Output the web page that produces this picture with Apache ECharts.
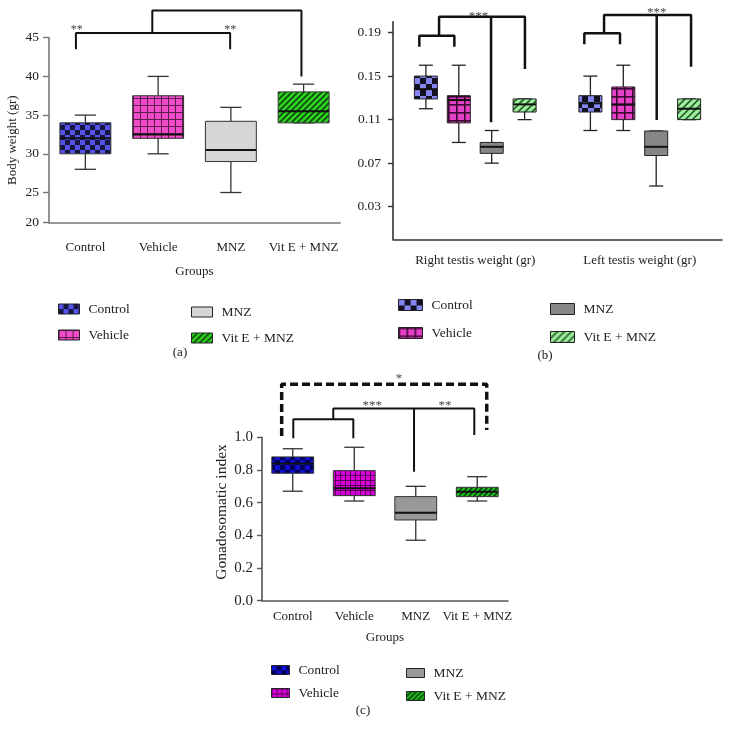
<!DOCTYPE html>
<html><head><meta charset="utf-8">
<script src="https://cdn.jsdelivr.net/npm/echarts@6/dist/echarts.min.js"></script>
<style>html,body{margin:0;padding:0;background:#fff}#c{width:731px;height:737px}</style>
</head><body><div id="c"></div>
<script>
// ---------- data ----------
const groups = ['Control', 'Vehicle', 'MNZ', 'Vit E + MNZ'];
const testisCategories = ['Right testis weight (gr)', 'Left testis weight (gr)'];
// each row: [min, Q1, median, Q3, max]
const bodyWeight = [[28, 30, 32, 34, 35], [30, 32, 32.5, 37.5, 40], [25, 29, 30.5, 34.2, 36], [34, 34, 35.5, 38, 39]];
const rightTestis = [[0.12, 0.129, 0.138, 0.15, 0.16], [0.089, 0.107, 0.128, 0.132, 0.16], [0.07, 0.079, 0.085, 0.089, 0.10], [0.11, 0.117, 0.124, 0.129, 0.129]];
const leftTestis = [[0.10, 0.117, 0.125, 0.132, 0.15], [0.10, 0.11, 0.124, 0.14, 0.16], [0.049, 0.077, 0.085, 0.0995, 0.0995], [0.11, 0.11, 0.12, 0.129, 0.129]];
const gsi = [[0.67, 0.78, 0.84, 0.88, 0.93], [0.61, 0.643, 0.688, 0.796, 0.939], [0.37, 0.494, 0.539, 0.637, 0.70], [0.61, 0.637, 0.667, 0.694, 0.759]];
const bodyTicks = [20, 25, 30, 35, 40, 45];
const bodyTickValues = [21.1, 25, 30, 35, 40, 45];
const testisTicks = [0.03, 0.07, 0.11, 0.15, 0.19];
// significance annotations (category-index x, value y)
const bwBrackets = [
  [[-0.13, 43.5], [-0.13, 45.6], [1.99, 45.6], [1.99, 43.5]],
  [[0.92, 45.6], [0.92, 48.5], [2.97, 48.5], [2.97, 40.0]]
];
const bwStars = [[-0.12, 46.0, '**'], [1.99, 46.0, '**']];
const tsBrackets = [
  [[-0.34, 0.177], [-0.34, 0.1871], [-0.127, 0.1871], [-0.127, 0.177]],
  [[-0.22, 0.1871], [-0.22, 0.2046], [0.302, 0.2046], [0.302, 0.1565]],
  [[0.096, 0.2046], [0.096, 0.1075]],
  [[0.663, 0.1792], [0.663, 0.1893], [0.88, 0.1893], [0.88, 0.1792]],
  [[0.783, 0.1893], [0.783, 0.2062], [1.312, 0.2062], [1.312, 0.1586]],
  [[1.103, 0.2062], [1.103, 0.1096]]
];
const tsStars = [[0.02, 0.205, '***'], [1.103, 0.208, '***']];
const gsiBrackets = [
  [[0.009, 0.994], [0.009, 1.110], [0.985, 1.110], [0.985, 0.994]],
  [[0.659, 1.110], [0.659, 1.177], [2.952, 1.177], [2.952, 1.014]],
  [[1.972, 1.177], [1.972, 0.789]]
];
const gsiDashed = [[-0.18, 1.008], [-0.18, 1.324], [3.154, 1.324], [3.154, 1.045]];
const gsiStars = [[1.728, 1.357, '*'], [1.293, 1.192, '***'], [2.476, 1.192, '**']];

// ---------- patterns ----------
const FONT = '"Liberation Serif", "DejaVu Serif", serif';
function mk(w, h) { const c = document.createElement('canvas'); c.width = w; c.height = h; return [c, c.getContext('2d')]; }
function checker(bg, fg, s) {
  const [c, g] = mk(2 * s, 2 * s);
  g.fillStyle = bg; g.fillRect(0, 0, 2 * s, 2 * s);
  g.fillStyle = fg; g.fillRect(0, 0, s, s); g.fillRect(s, s, s, s);
  return { image: c, repeat: 'repeat' };
}
function gridPat(bg, line, s, lw) {
  const [c, g] = mk(s, s);
  g.fillStyle = bg; g.fillRect(0, 0, s, s);
  g.fillStyle = line; g.fillRect(0, 0, s, lw); g.fillRect(0, 0, lw, s);
  return { image: c, repeat: 'repeat' };
}
function hatch(bg, line, s, lw) {
  const [c, g] = mk(s, s);
  g.fillStyle = bg; g.fillRect(0, 0, s, s);
  g.strokeStyle = line; g.lineWidth = lw;
  g.beginPath();
  g.moveTo(-1, s + 1); g.lineTo(s + 1, -1);
  g.moveTo(-s / 2 - 1, s / 2 + 1); g.lineTo(s / 2 + 1, -s / 2 - 1);
  g.moveTo(s / 2 - 1, 1.5 * s + 1); g.lineTo(1.5 * s + 1, s / 2 - 1);
  g.stroke();
  return { image: c, repeat: 'repeat' };
}
const fillsA = [checker('#16163e', '#5353ea', 5), gridPat('#f04ccc', '#5e1c4c', 7, 1), '#d6d6d6', hatch('#30d620', '#0d4d0d', 6, 1.8)];
const fillsB = [checker('#111122', '#8585f0', 6), gridPat('#e63fc8', '#3c0c30', 8, 1.6), '#878787', hatch('#9df09d', '#2c5c2c', 7, 1.6)];
const fillsC = [checker('#00005a', '#1010d0', 5), gridPat('#d800d8', '#5a005a', 5, 1), '#999999', hatch('#22cc22', '#0a400a', 5, 1.6)];

// ---------- helpers ----------
function boxSeries(name, gi, rows, o) {
  return {
    type: 'custom', name, xAxisIndex: gi, yAxisIndex: gi, data: rows,
    encode: { x: 0, y: [1, 2, 3, 4, 5] },
    itemStyle: { color: typeof o.fill === 'string' ? o.fill : '#888' },
    renderItem(params, api) {
      const xi = api.value(0);
      const band = api.size([1, 0])[0];
      const pt = i => api.coord([xi, api.value(i)]);
      const cx = pt(3)[0] + o.offset * band;
      const w = o.width * band, cw = o.cap * band;
      const yMin = pt(1)[1], yQ1 = pt(2)[1], yMed = pt(3)[1], yQ3 = pt(4)[1], yMax = pt(5)[1];
      const ls = { stroke: o.whisker, lineWidth: o.wlw };
      return {
        type: 'group', children: [
          { type: 'line', shape: { x1: cx, y1: yMax, x2: cx, y2: yQ3 }, style: ls },
          { type: 'line', shape: { x1: cx, y1: yQ1, x2: cx, y2: yMin }, style: ls },
          { type: 'line', shape: { x1: cx - cw / 2, y1: yMax, x2: cx + cw / 2, y2: yMax }, style: ls },
          { type: 'line', shape: { x1: cx - cw / 2, y1: yMin, x2: cx + cw / 2, y2: yMin }, style: ls },
          { type: 'rect', shape: { x: cx - w / 2, y: yQ3, width: w, height: yQ1 - yQ3 }, style: { fill: o.fill, stroke: o.border, lineWidth: o.blw } },
          { type: 'line', shape: { x1: cx - w / 2, y1: yMed, x2: cx + w / 2, y2: yMed }, style: { stroke: '#111', lineWidth: o.mlw } }
        ]
      };
    }
  };
}
function bracketSeries(axisIdx, yIdx, pts, lw, dashed) {
  return {
    type: 'line', xAxisIndex: axisIdx, yAxisIndex: yIdx, data: pts, symbol: 'none', clip: false,
    silent: true, lineStyle: { color: '#111', width: lw, type: dashed ? [8, 4] : 'solid' }
  };
}
function starSeries(axisIdx, yIdx, stars, size) {
  return {
    type: 'custom', xAxisIndex: axisIdx, yAxisIndex: yIdx, silent: true,
    data: stars.map(s => [s[0], s[1]]),
    renderItem(params, api) {
      const c = api.coord([api.value(0), api.value(1)]);
      return { type: 'text', x: c[0], y: c[1], style: { text: stars[params.dataIndex][2], align: 'center', verticalAlign: 'middle', font: size + 'px ' + FONT, fill: '#444' } };
    }
  };
}
function legendCol(names, fills, left, top, gap, iw, ih) {
  return {
    orient: 'vertical', left, top, itemGap: gap, itemWidth: iw, itemHeight: ih, icon: 'rect', selectedMode: false,
    textStyle: { fontFamily: FONT, fontSize: 13.5, color: '#222', padding: [0, 0, 0, 4], lineHeight: 14 },
    data: names.map((n, i) => ({ name: n, itemStyle: { color: fills[i], borderColor: '#222', borderWidth: 1 } }))
  };
}
const txt = { fontFamily: FONT, color: '#222' };

// ---------- series ----------
const series = [];
const cfgA = { width: 0.70, cap: 0.29, offset: 0, whisker: '#333', wlw: 1.3, border: '#333', blw: 1, mlw: 2 };
groups.forEach((g, i) => series.push(boxSeries(g, 0, [[i, ...bodyWeight[i]]], Object.assign({}, cfgA, { fill: fillsA[i] }))));
const offB = [-0.3, -0.1, 0.1, 0.3];
groups.forEach((g, i) => series.push(boxSeries(g, 1, [[0, ...rightTestis[i]], [1, ...leftTestis[i]]],
  { width: 0.14, cap: 0.085, offset: offB[i], whisker: '#222', wlw: 1.3, border: '#222', blw: 1, mlw: 2, fill: fillsB[i] })));
const cfgC = { width: 0.68, cap: 0.325, offset: 0, whisker: '#333', wlw: 1.3, border: '#333', blw: 1, mlw: 2 };
groups.forEach((g, i) => series.push(boxSeries(g, 2, [[i, ...gsi[i]]], Object.assign({}, cfgC, { fill: fillsC[i] }))));

bwBrackets.forEach(b => series.push(bracketSeries(3, 0, b, 2, false)));
series.push(starSeries(3, 0, bwStars, 12));
tsBrackets.forEach(b => series.push(bracketSeries(4, 1, b, 2.5, false)));
series.push(starSeries(4, 1, tsStars, 13));
gsiBrackets.forEach(b => series.push(bracketSeries(5, 2, b, 2, false)));
series.push(bracketSeries(5, 2, gsiDashed, 3.5, true));
series.push(starSeries(5, 2, gsiStars, 13));

const catAxis = (gi, data, margin, lineColor, name, nameGap) => ({
  type: 'category', gridIndex: gi, data,
  axisLine: { onZero: false, lineStyle: { color: lineColor, width: 1.6 } },
  axisTick: { alignWithLabel: true, length: 5, lineStyle: { color: lineColor, width: 1.4 } },
  axisLabel: Object.assign({ margin, fontSize: 13, interval: 0 }, txt),
  name, nameLocation: 'middle', nameGap, nameTextStyle: Object.assign({ fontSize: 13 }, txt)
});
const valAxis = (gi, n) => ({ type: 'value', gridIndex: gi, min: -0.5, max: n - 0.5, show: false, axisLine: { onZero: false } });

const option = {
  backgroundColor: '#fff',
  animation: false,
  grid: [
    { left: 49, top: 37.7, width: 291, height: 185 },
    { left: 393, top: 21.7, width: 329, height: 217.6 },
    { left: 262, top: 437.3, width: 246, height: 163.4 }
  ],
  xAxis: [
    catAxis(0, groups, 18, '#777', 'Groups', 42),
    catAxis(1, testisCategories, 15, '#333', '', 0),
    catAxis(2, groups, 9, '#555', 'Groups', 30),
    valAxis(0, 4), valAxis(1, 2), valAxis(2, 4)
  ],
  yAxis: [
    {
      type: 'value', gridIndex: 0, min: 21.1, max: 45,
      axisLine: { show: true, onZero: false, lineStyle: { color: '#777', width: 1.6 } },
      axisTick: { show: true, length: 6, customValues: bodyTickValues, lineStyle: { color: '#777', width: 1.4 } },
      splitLine: { show: false },
      axisLabel: Object.assign({ fontSize: 13.5, margin: 10, customValues: bodyTickValues, formatter: (v) => { const k = bodyTickValues.indexOf(v); return String(k >= 0 ? bodyTicks[k] : v); } }, txt),
      name: 'Body weight (gr)', nameLocation: 'middle', nameGap: 30, nameRotate: 90,
      nameTextStyle: Object.assign({ fontSize: 13, padding: [0, 20, 0, 0] }, txt)
    },
    {
      type: 'value', gridIndex: 1, min: 0, max: 0.2,
      axisLine: { show: true, onZero: false, lineStyle: { color: '#333', width: 1.6 } },
      axisTick: { show: true, length: 5, customValues: testisTicks, lineStyle: { color: '#333', width: 1.4 } },
      splitLine: { show: false },
      axisLabel: Object.assign({ fontSize: 13.5, margin: 12, customValues: testisTicks, formatter: v => v.toFixed(2) }, txt)
    },
    {
      type: 'value', gridIndex: 2, min: 0, max: 1, interval: 0.2,
      axisLine: { show: true, onZero: false, lineStyle: { color: '#555', width: 1.6 } },
      axisTick: { show: true, length: 5, lineStyle: { color: '#555', width: 1.4 } },
      splitLine: { show: false },
      axisLabel: Object.assign({ fontSize: 15, margin: 9, formatter: v => v.toFixed(1) }, txt),
      name: 'Gonadosomatic index', nameLocation: 'middle', nameGap: 28, nameRotate: 90,
      nameTextStyle: Object.assign({ fontSize: 15.5, padding: [0, 0, 0, 14] }, txt)
    }
  ],
  legend: [
    legendCol(['Control', 'Vehicle'], fillsA.slice(0, 2), 53, 297, 12, 21, 10),
    legendCol(['MNZ', 'Vit E + MNZ'], fillsA.slice(2), 186, 300, 12, 21, 10),
    legendCol(['Control', 'Vehicle'], fillsB.slice(0, 2), 393, 293, 14, 24, 11),
    legendCol(['MNZ', 'Vit E + MNZ'], fillsB.slice(2), 545, 297, 14, 24, 11),
    legendCol(['Control', 'Vehicle'], fillsC.slice(0, 2), 266, 658, 9, 18, 9),
    legendCol(['MNZ', 'Vit E + MNZ'], fillsC.slice(2), 401, 661, 9, 18, 9)
  ],
  graphic: [
    { type: 'text', x: 180, y: 353, style: { text: '(a)', align: 'center', verticalAlign: 'middle', font: '13px ' + FONT, fill: '#222' } },
    { type: 'text', x: 545, y: 356, style: { text: '(b)', align: 'center', verticalAlign: 'middle', font: '13px ' + FONT, fill: '#222' } },
    { type: 'text', x: 363, y: 711, style: { text: '(c)', align: 'center', verticalAlign: 'middle', font: '13px ' + FONT, fill: '#222' } }
  ],
  series
};
const chart = echarts.init(document.getElementById('c'), null, { renderer: 'canvas' });
chart.setOption(option);
</script>
</body></html>
